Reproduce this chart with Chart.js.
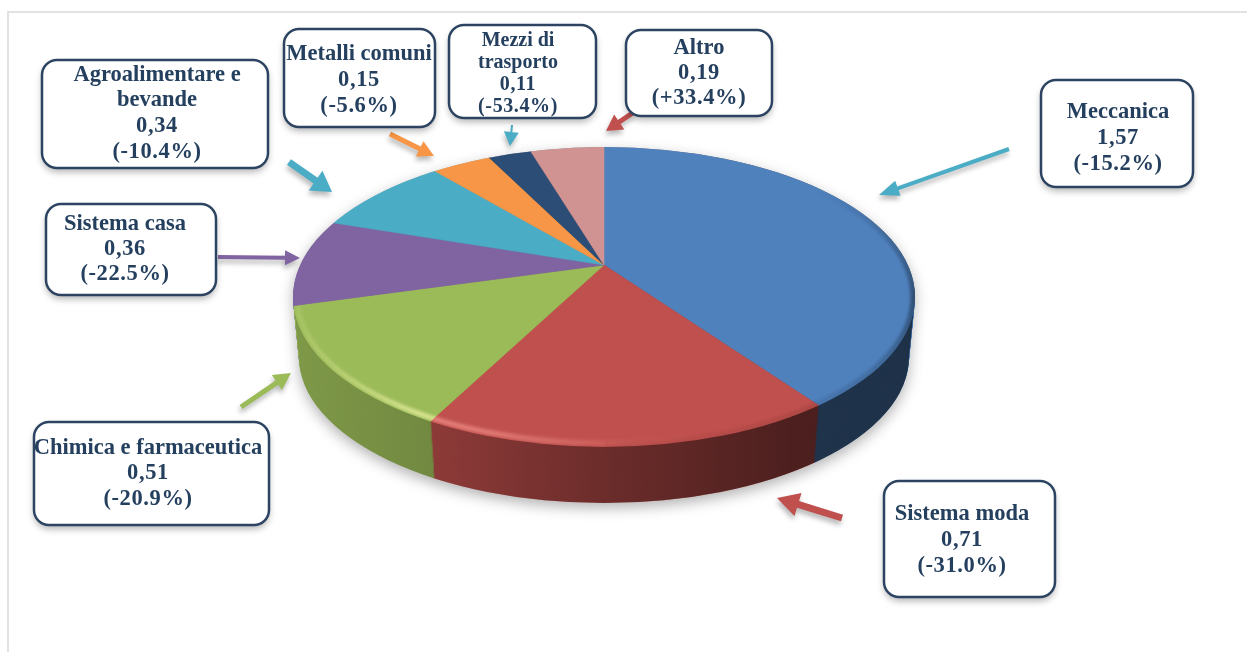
<!DOCTYPE html>
<html><head><meta charset="utf-8">
<style>html,body{margin:0;padding:0;background:#fff}canvas{display:block}</style>
<script src="https://cdn.jsdelivr.net/npm/chart.js@4"></script>
</head><body>
<canvas id="c" width="1247" height="652"></canvas>
<script>
const categories = ['Meccanica','Sistema moda','Chimica e farmaceutica','Sistema casa','Agroalimentare e bevande','Metalli comuni','Mezzi di trasporto','Altro'];
const values = [1.57,0.71,0.51,0.36,0.34,0.15,0.11,0.19];
const changes = ['(-15.2%)','(-31.0%)','(-20.9%)','(-22.5%)','(-10.4%)','(-5.6%)','(-53.4%)','(+33.4%)'];
const nameLines = [['Meccanica'],['Sistema moda'],['Chimica e farmaceutica'],['Sistema casa'],['Agroalimentare e','bevande'],['Metalli comuni'],['Mezzi di','trasporto'],['Altro']];
const colors = ['#4f81bd','#c0504d','#9bbb59','#8064a2','#4bacc6','#f79646','#2c4d75','#d19392'];

// layout of the callouts, same order as categories: x0,y0,x1,y1, text centre x, first line y, line step, font px
const boxes = [
 [1041,80,1193,187,1118,112,26,22.5],
 [884,481,1055,597,962,514,26,22.5],
 [34,422,269,525,148,448,25.5,22.5],
 [46,204,216,295,125,224,25,22.5],
 [42,60,268,168,157,75,25.6,22.5],
 [284,29,435,127,359,54,26,22.5],
 [449,25,596,118,518,41,21.8,20],
 [626,30,772,116,699,48,25,22.5]
];
// arrows: tail x,y, tip x,y, shaft width, head length, head width, colour
const arrows = [
 [1009,149,879,195,4,20,16,'#4bacc6'],
 [842,518,777,498,7,22,24,'#c0504d'],
 [241,407,291,373,5,17,18,'#9bbb59'],
 [218,257,300,258,4,15,15,'#8064a2'],
 [289,162,332,192,7,20,24,'#4bacc6'],
 [390,134,434,156,5,16,17,'#f79646'],
 [512,125,510,146,2,14,15,'#4bacc6'],
 [634,112,606,131,5,16,18,'#c0504d']
];
const PIE = {ax:604, ay:265, cx:604, cy:297, rx:311, ry:150, rxB:305, ryB:146, depth:60, big:430, tilt:0.485};

function ellipsePath(ctx,d){
  const t=d/PIE.depth;
  ctx.beginPath();
  ctx.ellipse(PIE.cx,PIE.cy+d,PIE.rx+(PIE.rxB-PIE.rx)*t,PIE.ry+(PIE.ryB-PIE.ry)*t,0,0,Math.PI*2);
}
function extruded(ctx){
  ctx.beginPath();
  ctx.ellipse(PIE.cx,PIE.cy,PIE.rx,PIE.ry,0,Math.PI,Math.PI*2);
  ctx.lineTo(PIE.cx+PIE.rxB,PIE.cy+PIE.depth);
  ctx.ellipse(PIE.cx,PIE.cy+PIE.depth,PIE.rxB,PIE.ryB,0,0,Math.PI);
  ctx.closePath();
}
function pieTransform(ctx,el,dy){
  const k=PIE.big/el.outerRadius;
  ctx.translate(PIE.ax,PIE.ay+dy);
  ctx.scale(k,k*PIE.tilt);
  ctx.translate(-el.x,-el.y);
}
function drawArrow(ctx,a){
  const [x0,y0,x1,y1,w,hl,hw,col]=a;
  const ang=Math.atan2(y1-y0,x1-x0),len=Math.hypot(x1-x0,y1-y0);
  ctx.save();
  ctx.shadowColor='rgba(0,0,0,.28)';ctx.shadowBlur=5;ctx.shadowOffsetY=4;ctx.shadowOffsetX=-1;
  ctx.translate(x0,y0);ctx.rotate(ang);
  ctx.fillStyle=col;ctx.beginPath();
  ctx.moveTo(0,-w/2);ctx.lineTo(len-hl,-w/2);ctx.lineTo(len-hl,-hw/2);ctx.lineTo(len,0);
  ctx.lineTo(len-hl,hw/2);ctx.lineTo(len-hl,w/2);ctx.lineTo(0,w/2);ctx.closePath();ctx.fill();
  ctx.restore();
}
const pie3d = {
  id:'pie3d',
  beforeDraw(chart){
    const ctx=chart.ctx;ctx.save();
    ctx.fillStyle='#fff';ctx.fillRect(0,0,1247,652);
    ctx.strokeStyle='#e2e2e2';ctx.lineWidth=2;
    ctx.beginPath();ctx.moveTo(8,652);ctx.lineTo(8,12);ctx.lineTo(1247,12);ctx.stroke();
    ctx.restore();
  },
  beforeDatasetsDraw(chart){
    const ctx=chart.ctx,els=chart.getDatasetMeta(0).data;
    // ground shadow
    ctx.save();ctx.filter='blur(7px)';ctx.translate(0,5);ctx.fillStyle='rgba(0,0,0,.3)';extruded(ctx);ctx.fill();ctx.restore();
    // walls: the slices repeated downward
    for(let d=PIE.depth;d>=1;d--){
      ctx.save();ellipsePath(ctx,d);ctx.clip();pieTransform(ctx,els[0],d);
      els.forEach(e=>e.draw(ctx));
      ctx.restore();
    }
    // wall shading
    ctx.save();extruded(ctx);ctx.clip();
    const g=ctx.createLinearGradient(PIE.cx-PIE.rx,0,PIE.cx+PIE.rx,0);
    g.addColorStop(0,'rgba(0,0,0,.18)');g.addColorStop(.23,'rgba(0,0,0,.27)');
    g.addColorStop(.5,'rgba(0,0,0,.44)');g.addColorStop(.8,'rgba(0,0,0,.6)');g.addColorStop(1,'rgba(0,0,0,.62)');
    ctx.fillStyle=g;ctx.fillRect(0,0,1247,652);ctx.restore();
    // top face
    ctx.save();ellipsePath(ctx,0);ctx.clip();pieTransform(ctx,els[0],0);
  },
  afterDatasetsDraw(chart){
    const ctx=chart.ctx;
    ctx.restore();
    // darker bevel: outer rim, right and front
    ctx.save();ellipsePath(ctx,0);ctx.clip();
    ctx.beginPath();ctx.rect(604,150,700,600);ctx.clip();
    ctx.filter='blur(1.5px)';
    const b=ctx.createLinearGradient(0,190,0,450);
    b.addColorStop(0,'rgba(0,0,0,0)');b.addColorStop(.42,'rgba(0,0,0,.38)');b.addColorStop(.7,'rgba(0,0,0,.14)');b.addColorStop(1,'rgba(0,0,0,.03)');
    ctx.strokeStyle=b;ctx.lineWidth=9;
    ctx.beginPath();ctx.ellipse(PIE.cx,PIE.cy,PIE.rx,PIE.ry,0,0,Math.PI*2);ctx.stroke();
    ctx.restore();
    // bright bevel on the left of the front edge
    ctx.save();ellipsePath(ctx,0);ctx.clip();
    ctx.beginPath();ctx.rect(0,306,760,400);ctx.clip();
    ctx.filter='blur(1.5px)';ctx.globalCompositeOperation='overlay';
    const h=ctx.createLinearGradient(PIE.cx-PIE.rx,0,PIE.cx+PIE.rx,0);
    h.addColorStop(0,'rgba(255,255,255,.1)');h.addColorStop(.2,'rgba(255,255,255,.6)');
    h.addColorStop(.32,'rgba(255,255,255,.5)');h.addColorStop(.55,'rgba(255,255,255,.08)');h.addColorStop(.65,'rgba(255,255,255,0)');
    ctx.strokeStyle=h;ctx.lineWidth=5;
    ctx.beginPath();ctx.ellipse(PIE.cx,PIE.cy,PIE.rx-4,PIE.ry-4,0,0,Math.PI*2);ctx.stroke();
    ctx.restore();
    arrows.forEach(a=>drawArrow(ctx,a));
    // callouts
    boxes.forEach((bx,i)=>{
      const [x0,y0,x1,y1,tx,ty,step,fs]=bx;
      ctx.save();
      ctx.shadowColor='rgba(0,0,0,.3)';ctx.shadowBlur=7;ctx.shadowOffsetY=4;
      ctx.beginPath();ctx.roundRect(x0,y0,x1-x0,y1-y0,15);ctx.fillStyle='#fff';ctx.fill();
      ctx.shadowColor='transparent';
      ctx.strokeStyle='#2c4462';ctx.lineWidth=2.5;ctx.stroke();
      ctx.fillStyle='#25405f';ctx.font='bold '+fs+'px "Liberation Serif"';
      ctx.textAlign='center';ctx.textBaseline='middle';
      const names=nameLines[i];
      const lines=[...names,values[i].toFixed(2).replace('.',','),changes[i]];
      lines.forEach((t,j)=>{ctx.letterSpacing=j>=names.length?'0.6px':'0px';ctx.fillText(t,tx,ty+j*step);});
      ctx.restore();
    });
  }
};
new Chart(document.getElementById('c'),{
  type:'pie',
  data:{labels:categories,datasets:[{data:values,backgroundColor:colors,borderColor:colors,borderWidth:0.6,clip:false}]},
  options:{responsive:false,animation:false,events:[],plugins:{legend:{display:false},tooltip:{enabled:false}}},
  plugins:[pie3d]
});
</script>
</body></html>
